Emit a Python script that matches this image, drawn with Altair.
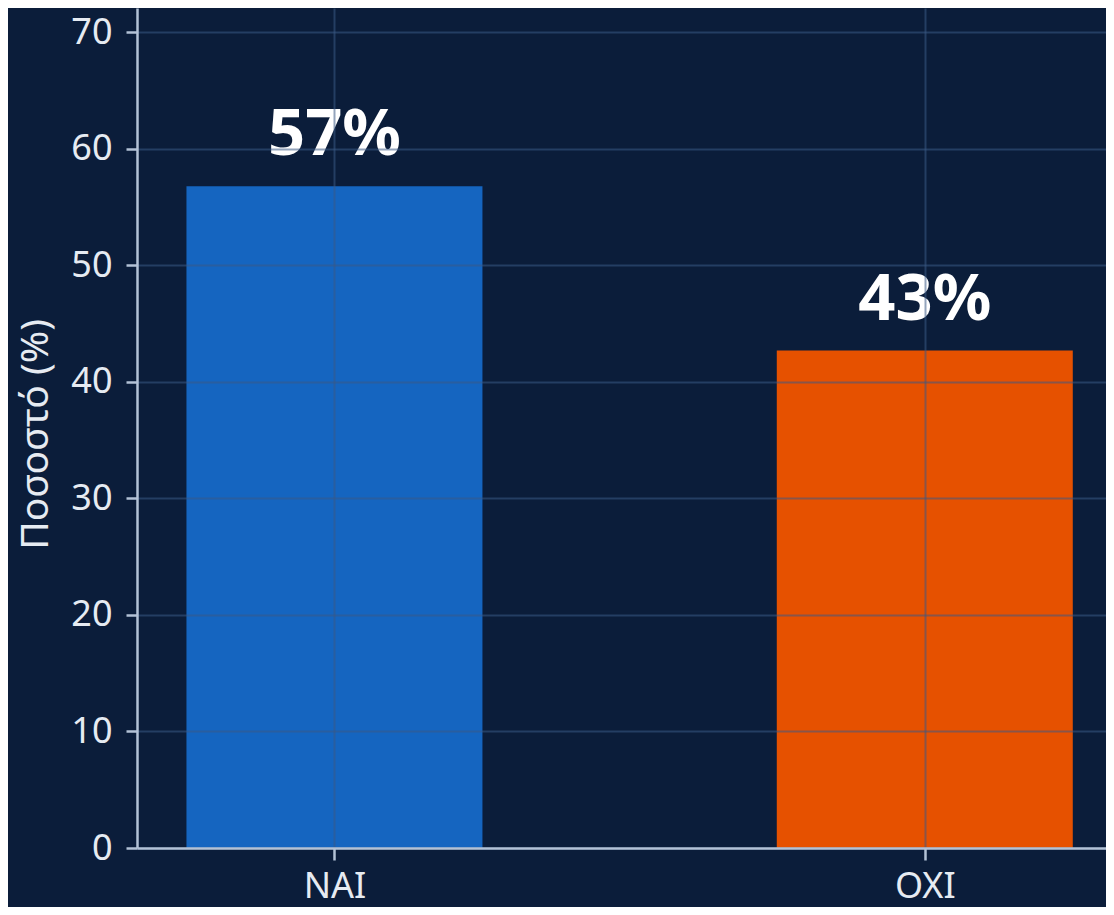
import altair as alt
import pandas as pd

categories = ["ΝΑΙ", "ΟΧΙ"]
values = [56.8, 42.7]
bar_colors = ["#1565c0", "#e65100"]
y_ticks = [0, 10, 20, 30, 40, 50, 60, 70]

df = pd.DataFrame({
    "pos": list(range(len(categories))),
    "cat": categories,
    "value": values,
    "color": bar_colors,
})

label_expr = "[" + ", ".join("'" + c + "'" for c in categories) + "][datum.value]"

FONT = "Noto Sans"

x_enc = alt.X(
    "pos:Q",
    scale=alt.Scale(domain=[-0.326, 1.2985], nice=False, zero=False),
    axis=alt.Axis(
        values=list(range(len(categories))),
        labelExpr=label_expr,
        title=None,
        grid=True,
        tickSize=12,
        labelPadding=9,
        zindex=1,
    ),
)

y_enc = alt.Y(
    "value:Q",
    scale=alt.Scale(domain=[0, 72.1], nice=False),
    axis=alt.Axis(
        values=y_ticks,
        title="Ποσοστό (%)",
        titleX=-102,
        titleY=426,
        titleAngle=270,
        titleAlign="center",
        titleBaseline="middle",
        tickSize=11,
        labelPadding=14,
        zindex=1,
    ),
)

bars = alt.Chart(df).mark_bar(size=296).encode(
    x=x_enc,
    y=y_enc,
    color=alt.Color("color:N", scale=None),
)

texts = alt.Chart(df).transform_calculate(
    label="format(datum.value, '.0f') + '%'"
).mark_text(
    font=FONT,
    fontSize=65,
    fontWeight="bold",
    color="#ffffff",
    baseline="alphabetic",
    align="center",
    dy=-31,
).encode(
    x="pos:Q",
    y="value:Q",
    text="label:N",
)

chart = (bars + texts).properties(
    width=969,
    height=840,
    autosize=alt.AutoSizeParams(type="none"),
    padding={"left": 129, "top": 0, "right": 0, "bottom": 59},
    background="#0b1d3a",
).configure_view(
    stroke=None,
).configure_axis(
    labelFont=FONT,
    labelFontSize=36,
    labelColor="#e6ebf2",
    titleFont=FONT,
    titleFontSize=39,
    titleFontWeight="normal",
    titleColor="#e6ebf2",
    domainColor="#b3c2d6",
    domainWidth=2.5,
    tickColor="#b3c2d6",
    tickWidth=2.5,
    gridColor="#3b5a85",
    gridOpacity=0.55,
    gridWidth=2,
)

chart.save("out.html", embed_options={"renderer": "svg", "actions": False})
